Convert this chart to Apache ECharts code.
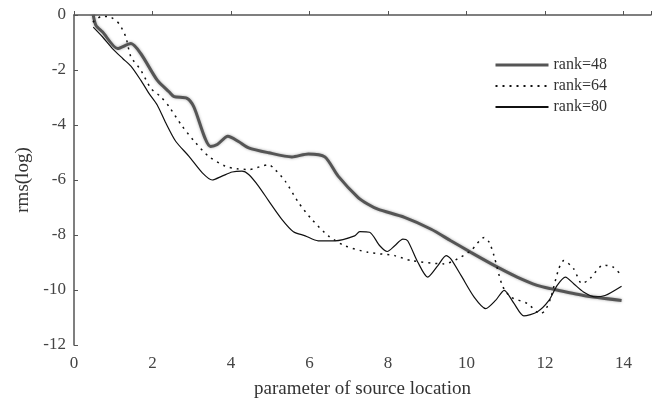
<!DOCTYPE html>
<html>
<head>
<meta charset="utf-8">
<script src="https://cdn.jsdelivr.net/npm/echarts@6/dist/echarts.min.js"></script>
<style>
  html, body { margin: 0; padding: 0; background: #fff; }
  #chart { width: 654px; height: 404px; }
</style>
</head>
<body>
<div id="chart"></div>
<script>
// series values, [parameter, rms(log)]
var rank48 = [
    [0.49, 0.0], [0.56, -0.38], [0.73, -0.62], [1.11, -1.22], [1.45, -1.04],
    [1.70, -1.40], [2.12, -2.37], [2.42, -2.79], [2.55, -2.97], [2.88, -3.03],
    [3.05, -3.33], [3.48, -4.78], [3.65, -4.71], [3.92, -4.41], [4.19, -4.60],
    [4.45, -4.83], [4.96, -5.01], [5.55, -5.16], [5.97, -5.05], [6.39, -5.16],
    [6.73, -5.86], [7.24, -6.64], [7.49, -6.88], [7.74, -7.06], [8.42, -7.36],
    [9.10, -7.79], [9.60, -8.21], [10.11, -8.63], [10.79, -9.17], [11.29, -9.53],
    [11.80, -9.83], [12.14, -9.95], [12.98, -10.20], [13.95, -10.38]
];
var rank64 = [
    [0.48, -0.26], [0.70, -0.05], [0.94, -0.08], [1.15, -0.32], [1.32, -0.80],
    [1.45, -1.52], [1.70, -2.00], [1.96, -2.67], [2.21, -2.97], [2.42, -3.33],
    [2.76, -4.05], [3.10, -4.65], [3.43, -5.14], [3.86, -5.50], [4.15, -5.59],
    [4.45, -5.62], [4.96, -5.44], [5.08, -5.56], [5.38, -6.04], [5.72, -6.82],
    [6.05, -7.42], [6.48, -8.03], [6.90, -8.39], [7.49, -8.63], [8.17, -8.75],
    [8.59, -8.93], [9.43, -9.05], [9.77, -8.87], [10.11, -8.57], [10.45, -8.09],
    [10.58, -8.27], [10.70, -8.75], [10.91, -9.83], [11.12, -10.25], [11.55, -10.49],
    [11.88, -10.86], [12.00, -10.75], [12.14, -10.31], [12.35, -9.23], [12.48, -8.93],
    [12.73, -9.23], [12.94, -9.77], [13.14, -9.59], [13.49, -9.09], [13.74, -9.17],
    [13.95, -9.47]
];
var rank80 = [
    [0.49, -0.44], [0.73, -0.80], [0.98, -1.22], [1.24, -1.58], [1.45, -1.86],
    [1.70, -2.37], [1.91, -2.85], [2.12, -3.27], [2.34, -3.93], [2.59, -4.59],
    [2.93, -5.14], [3.27, -5.74], [3.52, -6.00], [3.77, -5.86], [4.03, -5.71],
    [4.28, -5.68], [4.45, -5.80], [4.70, -6.22], [4.96, -6.76], [5.29, -7.42],
    [5.59, -7.88], [5.89, -8.03], [6.22, -8.21], [6.65, -8.21], [7.15, -8.03],
    [7.28, -7.88], [7.53, -7.90], [7.79, -8.39], [7.98, -8.60], [8.17, -8.39],
    [8.38, -8.15], [8.50, -8.21], [8.76, -8.99], [9.01, -9.53], [9.27, -9.11],
    [9.48, -8.75], [9.60, -8.87], [9.86, -9.47], [10.19, -10.25], [10.49, -10.68],
    [10.74, -10.38], [10.96, -10.01], [11.21, -10.49], [11.46, -10.94], [11.80, -10.80],
    [12.10, -10.38], [12.31, -9.83], [12.52, -9.53], [12.73, -9.77], [12.98, -10.07],
    [13.28, -10.25], [13.53, -10.20], [13.95, -9.86]
];
var seriesNames = ['rank=48', 'rank=64', 'rank=80'];

var serif = '"Liberation Serif", "DejaVu Serif", serif';

var chart = echarts.init(document.getElementById('chart'));
var option = {
    animation: false,
    backgroundColor: '#fff',
    grid: { left: 74, right: 0, top: 15, bottom: 57 },
    legend: {
        orient: 'vertical',
        left: 489,
        top: 52,
        itemWidth: 53,
        itemHeight: 10,
        itemGap: 5,
        data: [
            { name: seriesNames[0], lineStyle: { width: 3 } },
            { name: seriesNames[1] },
            { name: seriesNames[2] }
        ],
        itemStyle: { opacity: 0 },
        textStyle: { fontFamily: serif, fontSize: 16, color: '#333' }
    },
    xAxis: {
        type: 'value',
        min: 0,
        max: 14.7,
        interval: 2,
        name: 'parameter of source location',
        nameLocation: 'middle',
        nameGap: 35,
        nameTextStyle: { fontFamily: serif, fontSize: 19, color: '#333' },
        axisLine: { lineStyle: { color: '#555', width: 1.5 } },
        axisTick: { inside: true, length: 4, lineStyle: { color: '#555' } },
        axisLabel: {
            fontFamily: serif, fontSize: 17, color: '#444', margin: 10,
            formatter: function (v) { return v % 2 === 0 ? v : ''; }
        },
        splitLine: { show: false }
    },
    yAxis: {
        type: 'value',
        min: -12,
        max: 0,
        interval: 2,
        name: 'rms(log)',
        nameLocation: 'middle',
        nameGap: 40,
        nameTextStyle: { fontFamily: serif, fontSize: 19, color: '#333' },
        axisLine: { show: true, lineStyle: { color: '#555', width: 1.5 } },
        axisTick: { show: true, inside: true, length: 4, lineStyle: { color: '#555' } },
        axisLabel: { fontFamily: serif, fontSize: 17, color: '#444', margin: 8 },
        splitLine: { show: false }
    },
    series: [
        {
            name: seriesNames[0], type: 'line', data: rank48, showSymbol: false, symbol: 'none',
            smooth: 0.25,
            lineStyle: { color: '#555', width: 3, shadowColor: 'rgba(0,0,0,0.35)', shadowBlur: 3 },
            itemStyle: { color: '#555' }
        },
        {
            name: seriesNames[1], type: 'line', data: rank64, showSymbol: false, symbol: 'none',
            smooth: 0.25,
            lineStyle: { color: '#111', width: 1.5, type: [2, 5] },
            itemStyle: { color: '#111' }
        },
        {
            name: seriesNames[2], type: 'line', data: rank80, showSymbol: false, symbol: 'none',
            smooth: 0.25,
            lineStyle: { color: '#111', width: 1.2 },
            itemStyle: { color: '#111' }
        }
    ]
};
chart.setOption(option);
</script>
</body>
</html>
